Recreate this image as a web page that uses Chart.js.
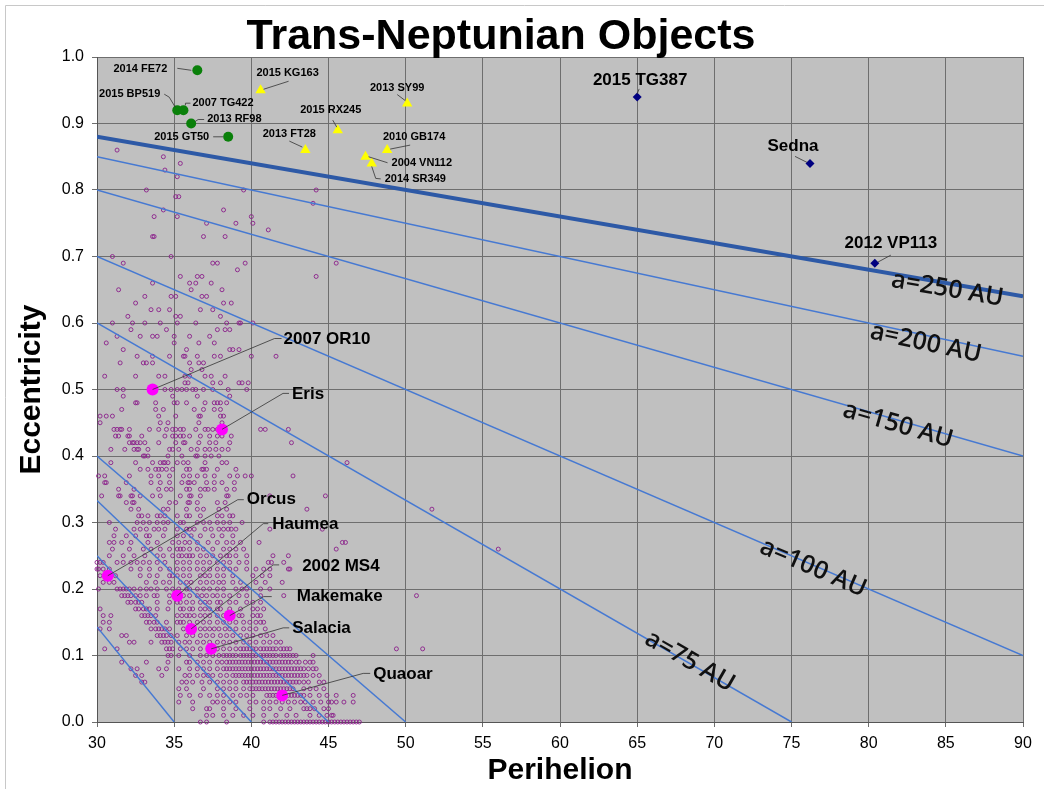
<!DOCTYPE html>
<html>
<head>
<meta charset="utf-8">
<title>Trans-Neptunian Objects</title>
<script src="https://cdn.jsdelivr.net/npm/chart.js@4.4.1/dist/chart.umd.min.js"></script>
<style>
  html, body { margin: 0; padding: 0; background: #fff; }
  #wrap { width: 1044px; height: 789px; position: relative; }
</style>
</head>
<body>
<div id="wrap"><canvas id="tno"></canvas></div>
<script>
// named objects: perihelion (AU) and eccentricity
const dwarfNames = ["2007 OR10", "Eris", "Orcus", "Haumea", "2002 MS4", "Makemake", "Salacia", "Quaoar"];
const dwarfPeri = [33.6, 38.1, 30.7, 35.2, 36.1, 38.6, 37.4, 42.0];
const dwarfEcc = [0.50, 0.44, 0.22, 0.19, 0.14, 0.16, 0.11, 0.04];

const greenNames = ["2014 FE72", "2015 BP519", "2007 TG422", "2013 RF98", "2015 GT50"];
const greenPeri = [36.5, 35.2, 35.6, 36.1, 38.5];
const greenEcc = [0.98, 0.92, 0.92, 0.90, 0.88];

const yellowNames = ["2015 KG163", "2013 SY99", "2015 RX245", "2013 FT28", "2010 GB174", "2004 VN112", "2014 SR349"];
const yellowPeri = [40.6, 50.1, 45.6, 43.5, 48.8, 47.4, 47.8];
const yellowEcc = [0.95, 0.93, 0.89, 0.86, 0.86, 0.85, 0.84];

const farNames = ["2015 TG387", "Sedna", "2012 VP113"];
const farPeri = [65.0, 76.2, 80.4];
const farEcc = [0.94, 0.84, 0.69];

// lines of constant semi-major axis
const semiMajor = [35, 40, 45, 50, 75, 100, 150, 200, 250];
const lineStartPeri = [30, 30, 30, 30, 30, 30, 30, 30, 30];
const lineStartEcc = [0.143, 0.25, 0.333, 0.40, 0.60, 0.70, 0.80, 0.85, 0.88];
const lineEndPeri = [35, 40, 45, 50, 75, 90, 90, 90, 90];
const lineEndEcc = [0, 0, 0, 0, 0, 0.10, 0.40, 0.55, 0.64];

// the rest of the known TNOs, one row per eccentricity
const kboEcc = [0.86, 0.85, 0.84, 0.83, 0.82, 0.80, 0.79, 0.78, 0.77, 0.76, 0.75, 0.74, 0.73, 0.70,
  0.69, 0.68, 0.67, 0.66, 0.65, 0.64, 0.63, 0.62, 0.61, 0.60, 0.59, 0.58, 0.57, 0.56, 0.55, 0.54,
  0.53, 0.52, 0.51, 0.50, 0.49, 0.48, 0.47, 0.46, 0.45, 0.44, 0.43, 0.42, 0.41, 0.40, 0.39, 0.38,
  0.37, 0.36, 0.35, 0.34, 0.33, 0.32, 0.31, 0.30, 0.29, 0.28, 0.27, 0.26, 0.25, 0.24, 0.23, 0.22,
  0.21, 0.20, 0.19, 0.18, 0.17, 0.16, 0.15, 0.14, 0.13, 0.12, 0.11, 0.10, 0.09, 0.08, 0.07, 0.06,
  0.05, 0.04, 0.03, 0.02, 0.01, 0.00];
const kboPeri = [
  [31.3], [34.3], [35.4], [34.4], [35.2], [33.2, 39.5, 44.2], [35.1, 35.3], [44.0], [34.3, 38.2],
  [33.7, 35.2, 40.0], [37.1, 39.0, 40.1], [41.1], [33.6, 33.7, 36.9, 38.3], [31.0, 34.8],
  [31.7, 37.5, 37.8, 39.6, 45.5], [39.1], [35.4, 36.5, 36.8, 44.2], [33.6, 36.0, 36.4, 37.4],
  [31.4, 36.1, 38.1], [33.1, 34.8, 35.1, 36.8, 37.1], [32.5, 38.2, 38.7], [33.5, 34.0, 34.7, 36.7, 37.5],
  [32.0, 35.1, 35.4, 38.0], [31.0, 32.3, 33.1, 34.1, 35.2, 36.4, 38.4, 39.2, 39.3, 40.1],
  [32.2, 34.5, 37.8, 38.3, 38.6], [31.3, 32.8, 33.6, 33.9, 35.0, 36.0, 37.3], [30.6, 35.0, 36.6, 37.6],
  [31.7, 35.8, 38.6, 38.8, 39.2], [32.6, 33.6, 34.7, 35.6, 35.7, 36.5, 37.6, 38.0, 40.0, 41.6],
  [31.5, 33.0, 33.2, 33.6, 36.0, 36.6, 36.9], [36.1, 36.8],
  [30.5, 32.5, 34.0, 34.4, 35.7, 36.0, 37.0, 37.4, 38.3], [35.7, 35.9, 37.5, 38.0, 39.2, 39.4, 39.8],
  [31.3, 31.7, 34.4, 34.8, 35.2, 35.5, 35.8, 36.2, 36.4, 36.9, 37.5, 38.5, 39.7], [31.7, 34.9, 36.5, 38.6],
  [32.5, 32.6, 33.8, 35.0, 35.2, 35.8, 37.0, 37.6, 37.8, 38.0, 38.4], [31.6, 33.8, 34.3, 36.3, 36.9, 37.6, 38.0],
  [30.2, 30.6, 31.0, 34.0, 35.1, 36.6, 36.7, 38.0, 38.2], [30.2, 34.1, 34.6, 36.6, 38.1],
  [31.1, 31.3, 31.5, 31.6, 32.1, 33.4, 34.0, 34.5, 34.9, 35.1, 35.4, 35.6, 36.4, 37.0, 37.2, 37.5, 37.8, 40.6, 40.9, 42.4],
  [31.2, 31.4, 32.0, 32.1, 32.9, 34.4, 34.9, 35.1, 35.4, 35.6, 36.0, 36.7, 37.3, 37.8, 38.1, 38.7],
  [32.1, 32.3, 32.4, 32.6, 32.8, 33.1, 34.0, 35.1, 35.6, 35.7, 36.6, 37.3, 37.7, 38.6, 42.6],
  [30.9, 31.8, 32.4, 32.6, 32.7, 33.3, 34.7, 34.9, 35.3, 36.1, 36.5, 37.0, 37.3, 37.7, 38.1, 38.5],
  [33.0, 33.1, 33.3, 34.6, 35.5, 36.4, 36.5, 37.0, 37.4, 37.9],
  [30.9, 32.5, 33.6, 34.1, 34.3, 34.4, 34.6, 35.2, 35.6, 35.9, 37.0, 38.1, 38.4, 46.2],
  [32.8, 33.3, 33.8, 34.0, 34.2, 34.5, 34.9, 35.8, 36.0, 36.8, 36.9, 37.1, 37.8, 39.0],
  [30.1, 30.5, 32.1, 33.5, 34.0, 34.7, 35.6, 36.0, 36.5, 37.0, 37.6, 38.6, 39.1, 39.6, 40.0, 42.7],
  [30.5, 30.6, 31.9, 33.5, 34.1, 34.7, 35.5, 35.9, 36.0, 36.3, 37.1, 37.6, 38.1, 38.9],
  [31.4, 32.4, 34.0, 34.5, 34.8, 35.8, 36.0, 36.7, 37.0, 37.2, 37.6, 38.4, 38.9],
  [30.3, 31.4, 31.5, 32.2, 32.3, 32.8, 33.6, 34.1, 35.4, 36.0, 36.1, 36.7, 38.4, 38.5, 41.2, 44.8],
  [31.9, 32.3, 32.4, 34.7, 35.1, 35.9, 36.0, 36.5, 37.8, 38.3],
  [32.2, 32.7, 34.3, 34.6, 35.8, 36.5, 36.9, 37.9, 38.4, 43.6, 51.7],
  [32.7, 32.9, 33.3, 33.9, 34.1, 34.4, 35.2, 35.8, 36.0, 36.7, 37.8, 38.1, 38.6, 38.8],
  [30.8, 32.6, 33.0, 33.4, 33.9, 34.3, 34.6, 35.4, 35.6, 36.5, 36.9, 37.3, 37.8, 38.2, 38.6, 39.4],
  [31.2, 32.4, 32.8, 33.2, 33.7, 34.0, 34.4, 35.2, 35.8, 36.0, 36.3, 37.0, 37.4, 37.9, 38.2, 38.5, 38.7, 39.0, 41.2, 44.6],
  [31.1, 31.9, 32.5, 33.2, 33.4, 34.3, 35.2, 35.6, 36.1, 36.7, 37.5, 38.1, 38.8],
  [30.8, 31.1, 31.6, 32.2, 33.3, 33.9, 34.9, 35.3, 35.7, 36.0, 36.5, 37.2, 37.8, 38.4, 38.8, 39.3, 40.5, 45.9, 46.1],
  [31.0, 32.1, 33.0, 33.5, 34.1, 34.7, 35.2, 35.4, 35.6, 36.0, 36.5, 36.9, 37.5, 38.2, 38.6, 39.0, 39.5, 45.5, 56.0],
  [30.8, 31.7, 32.4, 33.1, 33.9, 34.3, 34.9, 35.3, 35.5, 35.8, 36.0, 36.2, 36.7, 37.1, 37.5, 38.0, 38.4, 38.6, 39.0, 39.7, 41.4, 42.4],
  [30.0, 30.2, 30.4, 31.3, 31.7, 32.2, 32.6, 33.0, 33.4, 33.9, 34.4, 35.2, 35.6, 36.0, 36.5, 36.9, 37.3, 37.8, 38.2, 38.6, 39.2, 39.7, 41.1, 41.3, 42.1],
  [30.0, 30.1, 30.4, 30.8, 32.2, 32.8, 33.4, 34.1, 34.7, 35.2, 35.6, 36.0, 36.5, 36.9, 37.3, 37.8, 38.2, 38.6, 39.0, 39.7, 40.3, 40.8, 41.2, 42.4, 42.5],
  [30.2, 30.5, 31.2, 32.8, 33.4, 33.9, 34.7, 34.9, 35.2, 35.6, 36.0, 36.7, 37.0, 37.3, 37.8, 38.2, 38.8, 40.1, 40.7, 41.2],
  [30.4, 30.8, 31.1, 33.2, 33.8, 34.3, 34.7, 35.4, 35.8, 36.1, 36.7, 37.1, 37.5, 37.9, 38.2, 38.8, 39.3, 40.3, 40.9, 42.0],
  [30.1, 31.3, 31.5, 31.7, 31.9, 32.1, 32.4, 32.8, 33.2, 33.5, 33.9, 34.5, 34.9, 35.3, 35.8, 36.0, 36.5, 36.9, 37.3, 37.8, 38.2, 39.0, 39.4, 39.7, 40.6, 41.2],
  [31.6, 31.8, 32.0, 32.2, 32.5, 32.8, 33.2, 33.7, 33.9, 34.7, 35.6, 36.0, 36.5, 36.8, 37.1, 37.5, 37.8, 38.2, 38.6, 39.2, 39.7, 40.6, 42.1, 50.7],
  [32.0, 32.2, 32.5, 32.7, 32.9, 33.9, 34.7, 35.2, 35.4, 35.8, 36.2, 36.7, 37.0, 37.3, 37.8, 38.0, 38.6, 39.0, 39.7, 40.1, 40.6],
  [30.2, 32.5, 32.7, 33.0, 33.2, 33.4, 33.9, 34.6, 35.4, 35.6, 36.0, 36.2, 36.7, 37.0, 37.3, 37.8, 38.0, 38.6, 39.3, 40.1, 40.4, 40.8],
  [30.4, 30.9, 32.9, 33.1, 33.3, 33.5, 33.8, 35.2, 35.5, 35.8, 36.0, 36.3, 36.7, 37.0, 37.3, 37.8, 38.2, 39.2, 39.4, 40.1, 40.4, 40.6],
  [30.4, 30.8, 33.2, 33.4, 33.7, 33.9, 34.5, 35.2, 35.4, 35.6, 36.0, 36.5, 36.9, 37.3, 37.8, 38.2, 38.6, 39.0, 39.5, 39.9, 40.3, 40.6, 40.8],
  [30.2, 30.8, 33.5, 33.8, 34.0, 34.2, 34.4, 34.7, 35.6, 36.7, 37.0, 37.3, 37.6, 37.9, 38.3, 38.6, 39.0, 39.5, 39.9, 40.3, 40.9],
  [31.6, 31.9, 33.9, 34.1, 34.3, 34.5, 34.8, 35.2, 35.8, 36.2, 36.7, 37.1, 37.5, 38.0, 38.4, 38.8, 39.3, 39.7, 40.1, 40.6, 41.0, 41.4],
  [32.1, 32.4, 33.5, 34.2, 34.4, 34.6, 34.8, 35.3, 35.7, 36.0, 36.5, 36.9, 37.3, 37.8, 38.2, 38.6, 39.0, 39.5, 39.9, 40.3, 40.8, 41.2, 41.6, 41.9],
  [30.5, 31.3, 34.5, 34.7, 34.9, 35.4, 35.8, 36.2, 36.7, 37.8, 38.2, 38.6, 39.0, 39.3, 39.5, 39.7, 39.9, 40.1, 40.3, 40.6, 40.8, 41.0, 41.2, 41.4, 41.6, 41.9, 42.1, 42.3, 42.5, 49.4, 51.1],
  [34.6, 34.8, 35.3, 36.0, 36.7, 37.1, 37.5, 37.9, 38.2, 38.4, 38.6, 38.8, 39.0, 39.3, 39.5, 39.7, 39.9, 40.1, 40.3, 40.6, 40.8, 41.0, 41.2, 41.4, 41.6, 41.9, 42.1, 42.3, 42.5, 42.7, 42.9, 44.0],
  [31.6, 33.2, 34.6, 35.8, 36.0, 36.5, 36.9, 37.3, 37.8, 38.1, 38.4, 38.6, 38.8, 39.0, 39.2, 39.4, 39.6, 39.8, 40.0, 40.2, 40.4, 40.6, 40.8, 41.0, 41.2, 41.4, 41.6, 41.8, 42.0, 42.2, 42.4, 42.6, 42.9, 43.1, 43.5, 43.8, 44.0],
  [32.2, 32.6, 34.0, 34.5, 35.3, 36.0, 36.5, 36.9, 37.3, 37.8, 38.2, 38.4, 38.6, 38.8, 39.0, 39.2, 39.4, 39.6, 39.8, 40.0, 40.2, 40.4, 40.6, 40.8, 41.0, 41.2, 41.4, 41.6, 41.8, 42.0, 42.2, 42.4, 42.6, 42.8, 43.0, 43.2, 43.4, 43.7, 44.0, 44.2],
  [32.5, 32.9, 34.2, 35.7, 36.0, 36.5, 36.9, 37.2, 37.5, 38.0, 38.4, 38.8, 39.0, 39.2, 39.4, 39.6, 39.8, 40.0, 40.2, 40.4, 40.6, 40.8, 41.0, 41.2, 41.4, 41.6, 41.8, 42.0, 42.2, 42.4, 42.6, 42.8, 43.0, 43.2, 43.4, 43.6, 44.0, 44.4],
  [32.9, 33.1, 35.5, 35.8, 36.2, 36.8, 37.3, 37.8, 38.2, 38.6, 39.0, 39.5, 39.7, 39.9, 40.1, 40.3, 40.5, 40.7, 40.9, 41.1, 41.3, 41.5, 41.7, 41.9, 42.1, 42.3, 42.5, 42.7, 42.9, 43.1, 43.4, 43.7, 44.4, 44.7],
  [35.3, 35.8, 36.9, 37.8, 38.2, 38.6, 39.0, 39.5, 39.9, 40.1, 40.3, 40.5, 40.7, 40.9, 41.1, 41.3, 41.5, 41.7, 41.9, 42.1, 42.3, 42.5, 42.7, 43.4, 43.8, 44.2, 44.7],
  [35.4, 36.0, 36.7, 37.3, 37.8, 38.2, 38.8, 39.3, 39.7, 40.1, 41.0, 41.2, 41.4, 41.6, 41.8, 42.0, 42.2, 42.4, 42.6, 42.8, 43.0, 43.2, 43.4, 43.8, 44.4, 44.9, 45.5, 46.6],
  [35.3, 36.2, 37.5, 37.8, 38.2, 38.6, 39.0, 39.9, 40.3, 40.8, 41.2, 41.6, 42.0, 42.4, 42.8, 43.2, 43.5, 44.0, 44.5, 45.0, 45.2, 45.5, 46.0, 46.6],
  [36.2, 37.1, 37.3, 38.2, 39.0, 39.9, 40.8, 41.2, 41.9, 42.5, 43.4, 43.6, 43.8, 44.1, 44.7, 45.0],
  [37.1, 37.5, 38.2, 38.8, 39.5, 40.1, 40.8, 41.6, 42.3, 42.9, 43.8, 44.4, 44.9, 45.2, 45.3],
  [36.7, 37.1, 38.4, 40.8, 41.2, 41.4, 41.6, 41.8, 42.0, 42.2, 42.4, 42.6, 42.8, 43.0, 43.2, 43.4, 43.6, 43.8, 44.0, 44.2, 44.4, 44.6, 44.8, 45.0, 45.2, 45.4, 45.6, 45.8, 46.0, 46.2, 46.4, 46.6, 46.8, 47.0]
];

const lineLabelText = ["a=250 AU", "a=200 AU", "a=150 AU", "a=100 AU", "a=75 AU"];

function pairs(xs, ys) {
  return xs.map((x, i) => ({ x: x, y: ys[i] }));
}

const kboPoints = [];
kboEcc.forEach((e, i) => {
  kboPeri[i].forEach(q => kboPoints.push({ x: q, y: e }));
});

// label placement: pixel offsets from the marker, leader polyline (marker relative)
const labelSpots = {
  "2014 FE72":  { dx: -30, dy: -1, align: "right", lead: [[-6, 0], [-20, -2]] },
  "2015 BP519": { dx: -17, dy: -16, align: "right", lead: [[-2, -3], [-8, -13], [-13, -16]] },
  "2007 TG422": { dx: 9, dy: -7, align: "left", lead: [[2, -5], [2, -7], [7, -7]] },
  "2013 RF98":  { dx: 16, dy: -5, align: "left", lead: [[4, -2], [7, -4], [13, -4]] },
  "2015 GT50":  { dx: -19, dy: 0, align: "right", lead: [[-5, 0], [-15, 0]] },
  "2015 KG163": { dx: 27, dy: -17, align: "center", lead: [[3, -1], [28, -9]] },
  "2013 SY99":  { dx: -10, dy: -16, align: "center", lead: [[-2, -3], [-10, -9]] },
  "2015 RX245": { dx: -7, dy: -20, align: "center", lead: [[-1, -3], [-5, -10]] },
  "2013 FT28":  { dx: -16, dy: -16, align: "center", lead: [[-3, -3], [-16, -9]] },
  "2010 GB174": { dx: 27, dy: -13, align: "center", lead: [[3, -1], [23, -5]] },
  "2004 VN112": { dx: 26, dy: 6, align: "left", lead: [[3, 0], [22, 6]] },
  "2014 SR349": { dx: 13, dy: 15.5, align: "left", lead: [[0, 3], [4, 15], [9, 15.5]] },
  "2015 TG387": { dx: 3, dy: -17, align: "center", lead: [[0, -3], [2, -8]] },
  "Sedna":      { dx: -17, dy: -17, align: "center", lead: [[-3, -1], [-15, -7]] },
  "2012 VP113": { dx: 16, dy: -20, align: "center", lead: [[3, -1], [16, -8]] },
  "2007 OR10":  { dx: 131, dy: -50, align: "left", lead: [[0, 0], [122, -51], [129, -51]] },
  "Eris":       { dx: 70, dy: -35, align: "left", lead: [[0, 0], [61, -36], [67, -36]] },
  "Orcus":      { dx: 139, dy: -76, align: "left", lead: [[0, 0], [130, -76], [136, -76]] },
  "Haumea":     { dx: 95, dy: -71, align: "left", lead: [[0, 0], [86, -72], [91, -72]] },
  "2002 MS4":   { dx: 111, dy: -63, align: "left", lead: [[0, 0], [82, -64], [88, -64]] },
  "Makemake":   { dx: 67, dy: -19, align: "left", lead: [[0, 0], [34, -19], [42, -19]] },
  "Salacia":    { dx: 81, dy: -21, align: "left", lead: [[0, 0], [72, -21], [78, -21]] },
  "Quaoar":     { dx: 91, dy: -21.5, align: "left", lead: [[0, 0], [81, -22], [88, -22]] }
};

// where the a=... captions sit: perihelion along the line, vertical nudge in px
const lineLabelSpots = [
  { line: 8, q: 85.1, nudge: 6 },
  { line: 7, q: 83.7, nudge: 8 },
  { line: 6, q: 81.9, nudge: 5 },
  { line: 5, q: 76.4, nudge: 3 },
  { line: 4, q: 68.4, nudge: -2 }
];

const LABEL_FONT = '"Liberation Sans", Arial, sans-serif';

const decorations = {
  id: "decorations",
  beforeDraw(chart) {
    const { ctx, chartArea: a } = chart;
    ctx.save();
    ctx.fillStyle = "#fff";
    ctx.fillRect(0, 0, chart.width, chart.height);
    ctx.strokeStyle = "#c8c8c8";
    ctx.lineWidth = 1;
    ctx.beginPath();
    ctx.moveTo(5.5, chart.height);
    ctx.lineTo(5.5, 5.5);
    ctx.lineTo(chart.width, 5.5);
    ctx.stroke();
    ctx.fillStyle = "#c0c0c0";
    ctx.fillRect(a.left, a.top, a.right - a.left, a.bottom - a.top);
    ctx.restore();
  },
  afterDatasetsDraw(chart) {
    const { ctx } = chart;
    const xs = chart.scales.x, ys = chart.scales.y;
    ctx.save();

    // captions on the constant-a lines
    ctx.fillStyle = "#111";
    ctx.font = '600 25px "Open Sans", sans-serif';
    ctx.textAlign = "center";
    ctx.textBaseline = "middle";
    lineLabelSpots.forEach((s, i) => {
      const k = s.line;
      const x0 = xs.getPixelForValue(lineStartPeri[k]), y0 = ys.getPixelForValue(lineStartEcc[k]);
      const x1 = xs.getPixelForValue(lineEndPeri[k]), y1 = ys.getPixelForValue(lineEndEcc[k]);
      const ang = Math.atan2(y1 - y0, x1 - x0);
      const px = xs.getPixelForValue(s.q);
      const py = y0 + (px - x0) * (y1 - y0) / (x1 - x0) + s.nudge;
      ctx.save();
      ctx.translate(px, py);
      ctx.rotate(ang);
      ctx.fillText(lineLabelText[i], 0, 0);
      ctx.restore();
    });

    // object names with leader lines
    chart.data.datasets.forEach((ds, di) => {
      if (!ds.names) return;
      const meta = chart.getDatasetMeta(di);
      meta.data.forEach((pt, i) => {
        const name = ds.names[i];
        const spot = labelSpots[name];
        if (!spot) return;
        ctx.strokeStyle = "#333";
        ctx.lineWidth = 0.8;
        ctx.beginPath();
        spot.lead.forEach((p, j) => {
          if (j === 0) ctx.moveTo(pt.x + p[0], pt.y + p[1]);
          else ctx.lineTo(pt.x + p[0], pt.y + p[1]);
        });
        ctx.stroke();
        ctx.fillStyle = "#000";
        ctx.font = "bold " + ds.labelSize + "px " + LABEL_FONT;
        ctx.textAlign = spot.align;
        ctx.textBaseline = "middle";
        ctx.fillText(name, pt.x + spot.dx, pt.y + spot.dy);
      });
    });
    ctx.restore();
  },
  afterDraw(chart) {
    const { ctx } = chart;
    ctx.save();
    ctx.fillStyle = "#000";
    ctx.font = "bold 43px " + LABEL_FONT;
    ctx.textAlign = "center";
    ctx.textBaseline = "alphabetic";
    ctx.fillText("Trans-Neptunian Objects", 501, 49);
    ctx.restore();
  }
};

const lineSets = semiMajor.map((a, i) => ({
  label: "a=" + a + " AU",
  data: [{ x: lineStartPeri[i], y: lineStartEcc[i] }, { x: lineEndPeri[i], y: lineEndEcc[i] }],
  showLine: true,
  borderColor: a === 250 ? "#2d59a6" : "#4679d2",
  borderWidth: a === 250 ? 4 : 1.5,
  pointRadius: 0,
  order: 2
}));

new Chart(document.getElementById("tno"), {
  type: "scatter",
  data: {
    datasets: [
      {
        label: "Dwarf planets",
        names: dwarfNames, labelSize: 17,
        data: pairs(dwarfPeri, dwarfEcc),
        pointStyle: "circle", pointRadius: 6,
        backgroundColor: "#ff00ff", borderColor: "#ff00ff", borderWidth: 0,
        order: 0
      },
      {
        label: "Extreme detached",
        names: greenNames, labelSize: 11,
        data: pairs(greenPeri, greenEcc),
        pointStyle: "circle", pointRadius: 5,
        backgroundColor: "#0a800a", borderColor: "#0a800a", borderWidth: 0,
        order: 0
      },
      {
        label: "High e",
        names: yellowNames, labelSize: 11,
        data: pairs(yellowPeri, yellowEcc),
        pointStyle: "triangle", pointRadius: 6,
        backgroundColor: "#ffff00", borderColor: "#ffff00", borderWidth: 0,
        order: 0
      },
      {
        label: "Sednoids",
        names: farNames, labelSize: 17,
        data: pairs(farPeri, farEcc),
        pointStyle: "rectRot", pointRadius: 4.5,
        backgroundColor: "#000080", borderColor: "#000080", borderWidth: 0,
        order: 0
      },
      ...lineSets,
      {
        label: "TNOs",
        data: kboPoints,
        pointStyle: "circle", pointRadius: 2,
        backgroundColor: "rgba(0,0,0,0)", borderColor: "#8a1f8a", borderWidth: 0.9,
        clip: false,
        order: 3
      }
    ]
  },
  options: {
    responsive: true,
    maintainAspectRatio: false,
    animation: false,
    layout: { padding: { top: 57, right: 21, bottom: 0, left: 0 } },
    plugins: { legend: { display: false }, tooltip: { enabled: false } },
    scales: {
      x: {
        type: "linear", min: 30, max: 90,
        ticks: { stepSize: 5, color: "#000", padding: 7, font: { size: 16, family: LABEL_FONT } },
        grid: { color: "#6e6e6e", lineWidth: 1, tickLength: 5 },
        border: { color: "#555" },
        title: { display: true, text: "Perihelion", color: "#000", padding: { top: 0, bottom: 0 },
                 font: { size: 30, weight: "bold", family: LABEL_FONT } },
        afterFit(scale) { scale.height = 67; }
      },
      y: {
        type: "linear", min: 0, max: 1,
        ticks: { stepSize: 0.1, color: "#000", padding: 8, font: { size: 16, family: LABEL_FONT },
                 callback: v => v.toFixed(1) },
        grid: { color: "#6e6e6e", lineWidth: 1, tickLength: 5 },
        border: { color: "#555" },
        title: { display: true, text: "Eccentricity", color: "#000", padding: { top: 14, bottom: 0 },
                 font: { size: 30, weight: "bold", family: LABEL_FONT } },
        afterFit(scale) { scale.width = 97; }
      }
    }
  },
  plugins: [decorations]
});
</script>
</body>
</html>
